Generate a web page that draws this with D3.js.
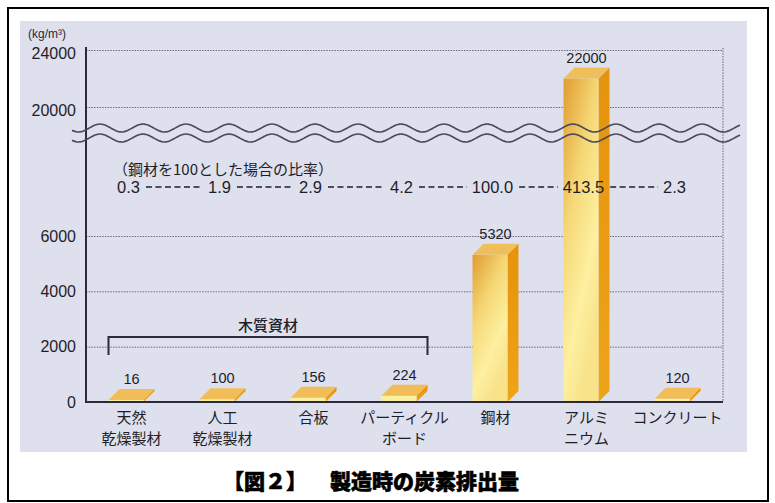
<!DOCTYPE html>
<html><head><meta charset="utf-8">
<script src="https://cdn.jsdelivr.net/npm/d3@7"></script>
<style>
html,body{margin:0;padding:0;background:#fff;}
text{font-family:"Liberation Sans",Arial,"Noto Sans CJK JP",sans-serif;}
.jp{font-family:"Noto Sans CJK JP","Noto Sans",sans-serif;}
</style></head>
<body>
<svg id="c" width="775" height="503"></svg>
<script>
// ---- data ----
const categories = ["天然\n乾燥製材","人工\n乾燥製材","合板","パーティクル\nボード","鋼材","アルミ\nニウム","コンクリート"];
const values = [16, 100, 156, 224, 5320, 22000, 120];
const ratios = ["0.3","1.9","2.9","4.2","100.0","413.5","2.3"];
const lowTicks = [0, 2000, 4000, 6000];
const highTicks = [20000, 24000];
const ratioTitle = "（鋼材を100とした場合の比率）";
const groupLabel = "木質資材";
const groupRange = [0, 3];
const unitLabel = "(kg/m³)";
const titleA = "【図２】";
const titleB = "製造時の炭素排出量";

// ---- layout ----
const svg = d3.select("#c");
const L = 86, R = 723, B = 402;
svg.append("rect").attr("x",8).attr("y",8).attr("width",760).attr("height",493)
  .attr("fill","#fff").attr("stroke","#000").attr("stroke-width",2);
svg.append("rect").attr("x",20).attr("y",21).attr("width",727).attr("height",431).attr("fill","#dfe0ee");

const x = d3.scaleBand().domain(d3.range(categories.length)).range([L, R]);
const yLow = d3.scaleLinear().domain([0, 6000]).range([B, 236]);
const yHigh = d3.scaleLinear().domain([20000, 24000]).range([107, 50]);
const y = v => v >= 20000 ? yHigh(v) : yLow(v);

// defs
const defs = svg.append("defs");
const gF = defs.append("linearGradient").attr("id","front").attr("x1",0).attr("y1",0).attr("x2",0.5).attr("y2",1);
[[0,"#e09c30"],[0.4,"#f5d775"],[0.75,"#fdf0a0"],[1,"#f8e28a"]].forEach(s=>gF.append("stop").attr("offset",s[0]).attr("stop-color",s[1]));
const gS = defs.append("linearGradient").attr("id","side").attr("x1",0).attr("y1",0).attr("x2",0).attr("y2",1);
[[0,"#e5930c"],[1,"#eea419"]].forEach(s=>gS.append("stop").attr("offset",s[0]).attr("stop-color",s[1]));

// gridlines
const grid = svg.append("g");
function gridAxis(scale, ticks){
  const g = grid.append("g").attr("transform",`translate(${L},0)`)
    .call(d3.axisLeft(scale).tickValues(ticks).tickSize(-(R-L)).tickFormat(""));
  g.select(".domain").remove();
  g.selectAll("line").attr("stroke","#6a6a78").attr("stroke-width",1).attr("stroke-dasharray","1.5,1.2");
}
gridAxis(yLow, lowTicks.filter(t=>t>0));
gridAxis(yHigh, highTicks);
grid.append("line").attr("x1",R).attr("x2",R).attr("y1",yHigh(24000)-2).attr("y2",B)
  .attr("stroke","#6a6a78").attr("stroke-width",1).attr("stroke-dasharray","1.5,1.2");

// tick labels
function labelAxis(scale, ticks, shift){
  const g = svg.append("g").attr("transform",`translate(${L},${shift})`)
    .call(d3.axisLeft(scale).tickValues(ticks).tickSize(0).tickPadding(10).tickFormat(d3.format("d")));
  g.select(".domain").remove();
  g.selectAll("text").attr("font-size",16).attr("fill","#1e1e28")
    .attr("font-family","'Liberation Sans',Arial,sans-serif");
}
labelAxis(yLow, lowTicks, 0);
labelAxis(yHigh, highTicks, 3);

svg.append("text").attr("x",28).attr("y",38).attr("font-size",12).attr("fill","#2a2a35").text(unitLabel);

// bars
const w = 35, d = 11;
const bars = svg.append("g");
values.forEach((v,i)=>{
  const bx = x(i) + x.bandwidth()/2 - (w+d)/2;
  const top = Math.min(y(v), B - 2);
  const h = B - top;
  const g = bars.append("g");
  g.append("polygon").attr("points",[[bx+w,top],[bx+w+d,top-d],[bx+w+d,B-d],[bx+w,B]].map(p=>p.join(",")).join(" "))
    .attr("fill","url(#side)");
  g.append("rect").attr("x",bx).attr("y",top).attr("width",w).attr("height",h)
    .attr("fill", h > 20 ? "url(#front)" : "#fbf0a0");
  g.append("polygon").attr("points",[[bx,top],[bx+d,top-d],[bx+w+d,top-d],[bx+w,top]].map(p=>p.join(",")).join(" "))
    .attr("fill", h > 20 ? "#efbf5c" : "#f1bd58");
  svg.append("text").attr("x", x(i)+x.bandwidth()/2).attr("y", top-d-5)
    .attr("text-anchor","middle").attr("font-size",14.5).attr("fill","#1e1e28").text(d3.format("d")(v));
});

// axes lines
svg.append("line").attr("x1",L).attr("x2",L).attr("y1",yHigh(24000)-3).attr("y2",B+1).attr("stroke","#2a2a38").attr("stroke-width",2);
svg.append("line").attr("x1",L-1).attr("x2",R).attr("y1",B).attr("y2",B).attr("stroke","#2a2a38").attr("stroke-width",2);

// axis break waves
const breakY = yHigh(20000) + 21;
const waveLine = d3.line().curve(d3.curveBasis);
[0, 10].forEach(off=>{
  const pts = d3.range(72, 741, 2).map(px=>[px, breakY + off - 4*Math.cos(2*Math.PI*(px-100)/43)]);
  svg.append("path").attr("d", waveLine(pts)).attr("fill","none").attr("stroke","#4a4a5c").attr("stroke-width",1.6);
});

// ratio row
svg.append("text").attr("class","jp").attr("x",113).attr("y",175).attr("font-size",15).attr("fill","#1e1e28").text(ratioTitle);
const rt = ratios.map((r,i)=> svg.append("text").attr("x", x(i)+x.bandwidth()/2-3).attr("y",193)
  .attr("text-anchor","middle").attr("font-size",16.5).attr("fill","#1e1e28").text(r));
for(let i=0;i<rt.length-1;i++){
  const a = rt[i].node().getBBox(), b = rt[i+1].node().getBBox();
  svg.append("line").attr("x1",a.x+a.width+6).attr("x2",b.x-5).attr("y1",187).attr("y2",187)
    .attr("stroke","#1e1e28").attr("stroke-width",1.6).attr("stroke-dasharray","6,3.5");
}

// wood group bracket
const gx0 = x(groupRange[0]) + x.bandwidth()/2 - (w+d)/2;
const gx1 = x(groupRange[1]) + x.bandwidth()/2 + (w+d)/2;
svg.append("path").attr("d",`M${gx0},355V337H${gx1}V355`).attr("fill","none").attr("stroke","#2a2a38").attr("stroke-width",2);
svg.append("text").attr("class","jp").attr("x",(gx0+gx1)/2).attr("y",331).attr("text-anchor","middle")
  .attr("font-size",15).attr("font-weight",500).attr("fill","#1e1e28").text(groupLabel);

// category labels
categories.forEach((c,i)=>{
  c.split("\n").forEach((line,j)=>{
    svg.append("text").attr("class","jp").attr("x",x(i)+x.bandwidth()/2).attr("y",423+j*21)
      .attr("text-anchor","middle").attr("font-size",15).attr("fill","#1e1e28").text(line);
  });
});

// title
svg.append("text").attr("class","jp").attr("x",223).attr("y",489).attr("font-size",21).attr("font-weight",900)
  .attr("stroke","#000").attr("stroke-width",0.6).attr("fill","#000").text(titleA);
svg.append("text").attr("class","jp").attr("x",330).attr("y",489).attr("font-size",21).attr("font-weight",900)
  .attr("stroke","#000").attr("stroke-width",0.6).attr("fill","#000").text(titleB);
</script>
</body></html>
